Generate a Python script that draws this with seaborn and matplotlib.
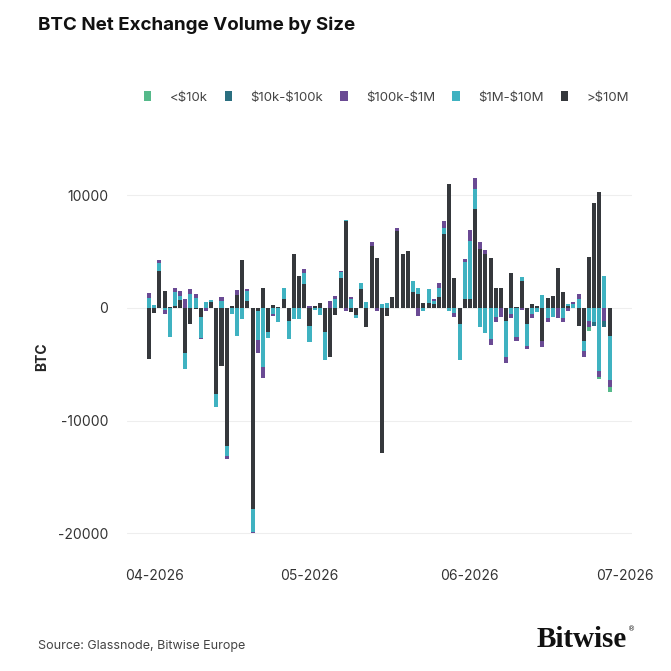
import numpy as np
import pandas as pd
import seaborn as sns
import matplotlib.pyplot as plt
import matplotlib.dates as mdates
from matplotlib.patches import Patch

# daily net exchange volume (BTC) per cohort, 2026-03-31 .. 2026-06-28
dates = pd.date_range('2026-03-31', periods=90, freq='D')

gt_10m = [-4500, -500, 3300, 1500, 100, 180, 700, -4050, -1450, -100,
          -850, 0, 550, -7650, -5150, -12250, 200, 1150, 4200, 600,
          -17800, -270, 1800, -2180, 260, 80, 770, -1200, 4750, 2830,
          2100, -1600, 150, 400, -2180, -4400, -620, 2680, 7700, -400,
          -620, 1650, -1680, 5490, 4400, -12900, -700, 970, 6800, 4750,
          5040, 1360, 1200, 470, 470, 300, 970, 6520, 11000, 2680,
          -1450, 770, 800, 8730, 5190, 4750, 4400, 1740, 1740, -1150,
          3130, 100, 2400, -1450, 325, 180, -2920, 860, 1060, 3570,
          1360, 180, 0, -1590, -2920, 4510, 9320, 10300, 0, -2540]
m1_10m = [900, 250, 650, -200, -2600, 1250, 350, -1400, 1250, 900,
          -1800, 550, 100, -1180, 600, -920, -550, -2480, -1000, 900,
          -2050, -2600, -5280, -500, -560, -1300, 1030, -1560, -1000, -1000,
          1030, -1450, -150, -650, -2450, 0, 750, 500, 100, 800,
          -240, 590, 500, 0, 0, 350, 470, 0, 0, 0,
          0, 1030, 590, -300, 1180, 300, 770, 590, -260, -500,
          -3190, 3250, 5100, 1770, -1740, -2200, -2800, -850, 0, -3250,
          -560, -2620, 350, -1920, -560, -400, 1150, -860, -800, 0,
          -860, 200, 350, 770, -940, -1150, -1300, -5575, 2830, -3860]
k100_1m = [400, 0, 280, -350, 0, 300, 450, 750, 400, 300,
           -150, -300, 0, 0, 400, -270, 0, 400, 0, 150,
           -150, -1100, -950, 0, -150, 0, 0, 0, 0, 0,
           300, 200, 0, 0, 0, 600, 300, 100, -250, 180,
           0, 0, 0, 380, -250, 0, 0, 0, 300, 0,
           0, 0, -700, 0, 0, 150, 500, 590, 0, -300,
           0, 300, 1000, 1030, 680, 380, -500, -400, -850, -530,
           -300, -350, -200, -300, -300, 0, -590, -440, 0, -860,
           -440, -300, 150, 440, -470, -590, 0, -590, -1150, -650]
k10_100k = [0] * 86 + [-300, 0, -590, 0]
lt_10k = [0] * 85 + [-300, 0, -150, 0, -440]

cohorts = ['>$10M', '$1M-$10M', '$100k-$1M', '$10k-$100k', '<$10k']
series = [gt_10m, m1_10m, k100_1m, k10_100k, lt_10k]
colors = ['#35383c', '#3fb2c1', '#6a4a94', '#2b6f80', '#55b98a']

df = pd.DataFrame(dict(zip(cohorts, series)), index=dates)

sns.set_theme(style='white')
plt.rcParams['font.family'] = ['Inter', 'DejaVu Sans']
plt.rcParams['axes.unicode_minus'] = False
plt.rcParams['text.parse_math'] = False

fig = plt.figure(figsize=(6.71, 6.71), dpi=100)
ax = fig.add_axes([0.19, 0.185, 0.752, 0.568])

pos_base = np.zeros(len(df))
neg_base = np.zeros(len(df))
for name, color in zip(cohorts, colors):
    vals = df[name].to_numpy(dtype=float)
    pos = np.where(vals > 0, vals, 0)
    neg = np.where(vals < 0, vals, 0)
    ax.bar(df.index, pos, bottom=pos_base, width=0.78, color=color, linewidth=0)
    ax.bar(df.index, neg, bottom=neg_base, width=0.78, color=color, linewidth=0)
    pos_base += pos
    neg_base += neg

ax.set_ylim(-21200, 12600)
ax.set_xlim(pd.Timestamp('2026-03-26 20:00'), pd.Timestamp('2026-07-02 08:00'))
ax.set_yticks([-20000, -10000, 0, 10000])
ax.yaxis.grid(True, color='#eeeeee', linewidth=0.8)
ax.set_axisbelow(True)
ax.xaxis.set_major_locator(mdates.MonthLocator())
ax.xaxis.set_major_formatter(mdates.DateFormatter('%m-%Y'))
ax.tick_params(axis='both', length=0, labelsize=10, labelcolor='#333333')
ax.tick_params(axis='y', pad=14)
ax.tick_params(axis='x', pad=16)
ax.set_ylabel('BTC', fontsize=10, fontweight='bold', labelpad=6)
ax.set_xlabel('')
sns.despine(ax=ax, left=True, bottom=True)

# legend order as in the source: small to large
handles = [Patch(facecolor=c, edgecolor='none') for c in colors[::-1]]
fig.legend(handles, cohorts[::-1], loc='center', bbox_to_anchor=(0.576, 0.855), ncol=5,
           frameon=False, fontsize=9.5, handlelength=0.55, handleheight=0.8,
           handletextpad=1.4, columnspacing=1.3, labelcolor='#444444')

fig.text(0.057, 0.962, 'BTC Net Exchange Volume by Size', fontsize=13.5,
         fontweight='bold', color='#111111', va='center')
fig.text(0.057, 0.038, 'Source: Glassnode, Bitwise Europe', fontsize=9,
         color='#444444', va='center')
fig.text(0.934, 0.047, 'Bitwise', fontsize=21, family='Liberation Serif',
         fontweight='bold', ha='right', va='center', color='#111111')
fig.text(0.936, 0.062, '®', fontsize=5, family='DejaVu Sans', ha='left',
         va='center', color='#111111')

fig.savefig('out.png', dpi=100, facecolor='white')
